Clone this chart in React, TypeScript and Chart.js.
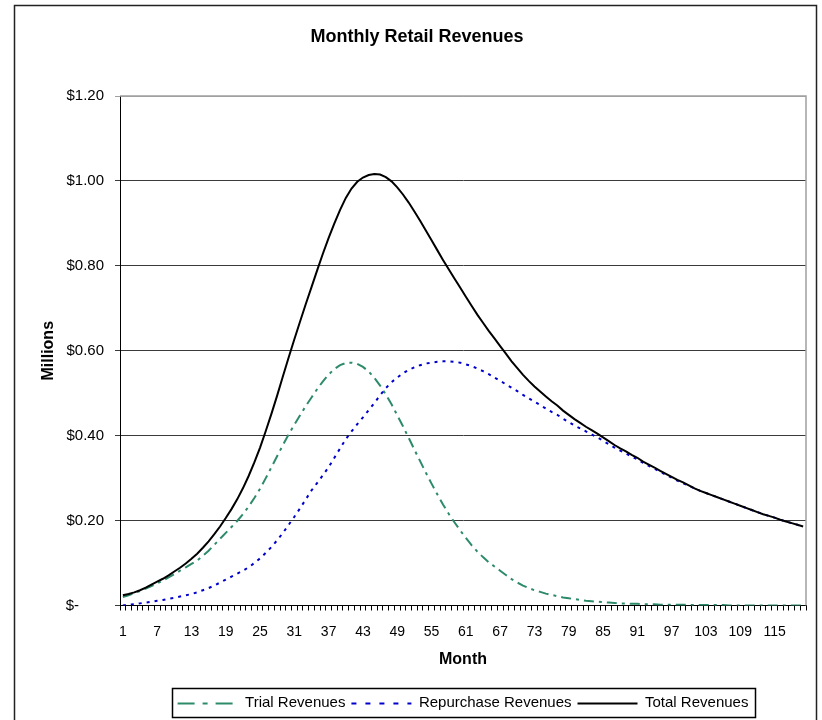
import React, { useEffect, useRef } from "react";
import { Chart, registerables } from "chart.js";

Chart.register(...registerables);

// ---- data ----
const months: string[] = Array.from({ length: 120 }, (_, i) => String(i + 1));
const xTickLabels: string[] = ["1", "7", "13", "19", "25", "31", "37", "43", "49", "55", "61", "67", "73", "79", "85", "91", "97", "103", "109", "115"];
const yTicks: number[] = [0, 0.2, 0.4, 0.6, 0.8, 1.0, 1.2];

const trialRevenues: number[] = [
  0.020, 0.024, 0.029, 0.034, 0.040, 0.046, 0.052, 0.059, 0.066, 0.074,
  0.082, 0.090, 0.098, 0.106, 0.117, 0.129, 0.143, 0.157, 0.171, 0.185,
  0.199, 0.215, 0.233, 0.253, 0.275, 0.300, 0.326, 0.352, 0.378, 0.403,
  0.426, 0.448, 0.470, 0.490, 0.510, 0.528, 0.544, 0.557, 0.566, 0.571,
  0.572, 0.569, 0.562, 0.551, 0.536, 0.518, 0.497, 0.474, 0.448, 0.422,
  0.395, 0.367, 0.340, 0.313, 0.287, 0.262, 0.238, 0.216, 0.196, 0.177,
  0.159, 0.142, 0.127, 0.114, 0.102, 0.092, 0.082, 0.072, 0.062, 0.054,
  0.047, 0.041, 0.036, 0.032, 0.028, 0.025, 0.022, 0.019, 0.017, 0.015,
  0.013, 0.011, 0.010, 0.009, 0.008, 0.007, 0.006, 0.005, 0.005, 0.004,
  0.004, 0.003, 0.003, 0.003, 0.002, 0.002, 0.002, 0.002, 0.002, 0.001,
  0.001, 0.001, 0.001, 0.001, 0.001, 0.001, 0.000, 0.000, 0.000, 0.000,
  0.000, 0.000, 0.000, 0.000, 0.000, 0.000, 0.000, 0.000, 0.000, 0.000,
];

const repurchaseRevenues: number[] = [
  0.000, 0.002, 0.003, 0.005, 0.007, 0.009, 0.011, 0.013, 0.016, 0.018,
  0.021, 0.024, 0.027, 0.031, 0.036, 0.041, 0.047, 0.054, 0.061, 0.068,
  0.075, 0.082, 0.090, 0.100, 0.111, 0.124, 0.138, 0.154, 0.171, 0.190,
  0.209, 0.229, 0.250, 0.271, 0.289, 0.307, 0.326, 0.348, 0.370, 0.392,
  0.410, 0.427, 0.443, 0.460, 0.477, 0.495, 0.512, 0.526, 0.537, 0.547,
  0.555, 0.561, 0.566, 0.570, 0.572, 0.574, 0.575, 0.575, 0.574, 0.572,
  0.568, 0.564, 0.558, 0.552, 0.545, 0.537, 0.529, 0.521, 0.513, 0.505,
  0.496, 0.488, 0.480, 0.472, 0.464, 0.456, 0.449, 0.440, 0.432, 0.424,
  0.417, 0.410, 0.403, 0.396, 0.388, 0.380, 0.372, 0.365, 0.358, 0.351,
  0.344, 0.336, 0.329, 0.322, 0.315, 0.308, 0.301, 0.294, 0.288, 0.282,
  0.276, 0.270, 0.265, 0.260, 0.255, 0.250, 0.245, 0.240, 0.235, 0.230,
  0.225, 0.220, 0.215, 0.211, 0.207, 0.202, 0.198, 0.194, 0.190, 0.186,
];

const totalRevenues: number[] = [
  0.024, 0.027, 0.031, 0.036, 0.042, 0.049, 0.056, 0.063, 0.071, 0.080,
  0.089, 0.099, 0.110, 0.122, 0.136, 0.151, 0.168, 0.186, 0.206, 0.227,
  0.250, 0.276, 0.305, 0.337, 0.372, 0.411, 0.452, 0.495, 0.540, 0.584,
  0.627, 0.669, 0.710, 0.750, 0.790, 0.829, 0.866, 0.900, 0.932, 0.960,
  0.982, 0.998, 1.008, 1.014, 1.016, 1.015, 1.009, 0.999, 0.985, 0.968,
  0.949, 0.928, 0.906, 0.883, 0.860, 0.837, 0.814, 0.792, 0.770, 0.749,
  0.727, 0.706, 0.685, 0.666, 0.647, 0.629, 0.611, 0.593, 0.575, 0.559,
  0.543, 0.529, 0.516, 0.504, 0.492, 0.481, 0.471, 0.459, 0.449, 0.439,
  0.430, 0.421, 0.413, 0.405, 0.396, 0.387, 0.378, 0.370, 0.363, 0.355,
  0.348, 0.339, 0.332, 0.325, 0.317, 0.310, 0.303, 0.296, 0.290, 0.283,
  0.276, 0.270, 0.265, 0.260, 0.255, 0.250, 0.245, 0.240, 0.235, 0.230,
  0.225, 0.220, 0.215, 0.211, 0.207, 0.202, 0.198, 0.194, 0.190, 0.186,
];

const FONT = "'Liberation Sans', Arial, sans-serif";
const LEGEND_SAMPLE = 60;
// dash patterns used for the legend samples (per dataset index)
const legendDashes: number[][] = [[], [5, 9], [17, 8, 5, 8]];

const framePlugin = {
  id: "frame",
  beforeDraw(chart: any) {
    const ctx = chart.ctx;
    ctx.save();
    ctx.fillStyle = "#ffffff";
    ctx.fillRect(0, 0, chart.width, chart.height);
    ctx.restore();
  },
  beforeDatasetsDraw(chart: any) {
    const { left, top, right, bottom } = chart.chartArea;
    const ctx = chart.ctx;
    ctx.save();
    ctx.strokeStyle = "#a0a0a0";
    ctx.lineWidth = 1.5;
    ctx.beginPath();
    ctx.moveTo(left, top);
    ctx.lineTo(right, top);
    ctx.lineTo(right, bottom);
    ctx.stroke();
    ctx.restore();
  },
  afterDraw(chart: any) {
    const ctx = chart.ctx;
    ctx.save();
    // outer chart border
    ctx.strokeStyle = "#222222";
    ctx.lineWidth = 1.5;
    ctx.strokeRect(14.5, 5.5, 802, 730);
    const legend = chart.legend;
    const boxes = legend && legend.legendHitBoxes;
    if (boxes && boxes.length) {
      let l = Infinity, r = -Infinity, t = Infinity, b = -Infinity;
      boxes.forEach((hb: any, i: number) => {
        l = Math.min(l, hb.left);
        r = Math.max(r, hb.left + hb.width);
        t = Math.min(t, hb.top);
        b = Math.max(b, hb.top + hb.height);
        // legend line sample, drawn with the dataset's own style
        const item = legend.legendItems[i];
        const ds = chart.data.datasets[item.datasetIndex];
        const cy = Math.round(hb.top + hb.height / 2) + 0.5;
        ctx.save();
        ctx.strokeStyle = ds.borderColor;
        ctx.lineWidth = ds.borderWidth;
        ctx.setLineDash(legendDashes[item.datasetIndex] || []);
        ctx.beginPath();
        ctx.moveTo(hb.left, cy);
        ctx.lineTo(hb.left + LEGEND_SAMPLE, cy);
        ctx.stroke();
        ctx.restore();
      });
      ctx.strokeStyle = "#000000";
      ctx.lineWidth = 1.5;
      ctx.strokeRect(Math.round(l - 6) + 0.5, Math.round(t - 7) + 0.5, Math.round(r - l + 12), Math.round(b - t + 14));
    }
    ctx.restore();
  },
};

export default function App() {
  const ref = useRef<HTMLCanvasElement | null>(null);

  useEffect(() => {
    const canvas = ref.current;
    if (!canvas) return;
    const defaultLabels = (Chart.defaults as any).plugins.legend.labels.generateLabels;
    const chart = new Chart(canvas, {
      type: "line",
      data: {
        labels: months,
        datasets: [
          {
            label: "Total Revenues",
            data: totalRevenues,
            borderColor: "#000000",
            backgroundColor: "#000000",
            borderWidth: 2,
            pointRadius: 0,
            fill: false,
            tension: 0,
          },
          {
            label: "Repurchase Revenues",
            data: repurchaseRevenues,
            borderColor: "#0000cc",
            backgroundColor: "#0000cc",
            borderWidth: 2,
            borderDash: [3, 5],
            pointRadius: 0,
            fill: false,
            tension: 0,
          },
          {
            label: "Trial Revenues",
            data: trialRevenues,
            borderColor: "#2e8b6a",
            backgroundColor: "#2e8b6a",
            borderWidth: 2,
            borderDash: [10, 5, 3, 5],
            pointRadius: 0,
            fill: false,
            tension: 0,
          },
        ],
      },
      options: {
        animation: false,
        responsive: false,
        devicePixelRatio: 1,
        layout: { padding: { left: 28, right: 16, top: 0, bottom: 0 } },
        plugins: {
          title: {
            display: true,
            text: "Monthly Retail Revenues",
            color: "#000",
            font: { family: FONT, size: 18, weight: "bold" },
            padding: { top: 26.2, bottom: 48.2 },
          },
          legend: {
            position: "bottom",
            fullSize: false,
            reverse: true,
            labels: {
              usePointStyle: true,
              pointStyle: "line",
              pointStyleWidth: LEGEND_SAMPLE,
              color: "#000",
              font: { family: FONT, size: 15 },
              padding: 6,
              generateLabels: (c: any) =>
                defaultLabels(c).map((it: any) => ({ ...it, strokeStyle: "rgba(0,0,0,0)", lineWidth: 0 })),
            },
          },
          tooltip: { enabled: false },
        },
        scales: {
          x: {
            type: "category",
            offset: true,
            z: 1,
            afterFit: (s: any) => {
              s.height = 83.5;
            },
            grid: {
              offset: true,
              drawOnChartArea: false,
              drawTicks: true,
              tickLength: 5,
              color: "#000",
            },
            border: { display: true, color: "#000", width: 1 },
            ticks: {
              autoSkip: false,
              maxRotation: 0,
              minRotation: 0,
              padding: 13.5,
              color: "#000",
              font: { family: FONT, size: 14 },
              callback: (_v: any, index: number) => {
                const lab = months[index];
                return xTickLabels.includes(lab) ? lab : "";
              },
            },
            title: {
              display: true,
              text: "Month",
              color: "#000",
              font: { family: FONT, size: 16, weight: "bold" },
              padding: { top: 0, bottom: 19.5 },
            },
          },
          y: {
            min: 0,
            max: 1.2,
            afterFit: (s: any) => {
              s.width = 92;
            },
            afterBuildTicks: (s: any) => {
              s.ticks = yTicks.map((v) => ({ value: v }));
            },
            grid: {
              color: (c: any) =>
                c.tick && Math.abs(c.tick.value - 1.2) < 1e-9 ? "#a0a0a0" : "#3a3a3a",
              lineWidth: 1,
              tickLength: 5,
              drawTicks: true,
            },
            border: { display: true, color: "#000", width: 1 },
            ticks: {
              padding: 11,
              color: "#000",
              font: { family: FONT, size: 15 },
              callback: (v: any) => {
                const n = Number(v);
                return n === 0 ? "$-      " : "$" + n.toFixed(2);
              },
            },
            title: {
              display: true,
              text: "Millions",
              color: "#000",
              font: { family: FONT, size: 16, weight: "bold" },
              padding: { top: 10.5, bottom: 0 },
            },
          },
        },
      },
      plugins: [framePlugin],
    } as any);
    return () => chart.destroy();
  }, []);

  return (
    <div style={{ position: "absolute", left: 0, top: 0, width: 822, height: 720, background: "#fff" }}>
      <canvas ref={ref} width={822} height={720} style={{ display: "block", width: 822, height: 720 }} />
    </div>
  );
}
